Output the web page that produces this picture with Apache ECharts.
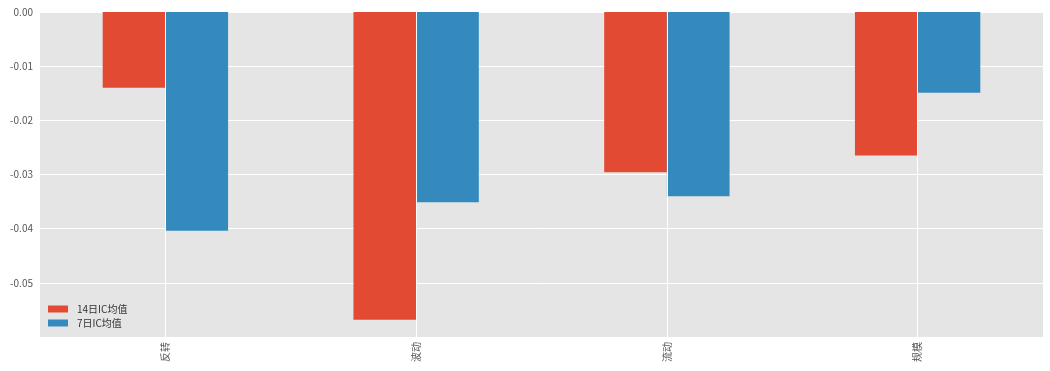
<!DOCTYPE html>
<html><head><meta charset="utf-8">
<script src="https://cdn.jsdelivr.net/npm/echarts@6/dist/echarts.min.js"></script>
<style>html,body{margin:0;padding:0;background:#fff}#c{width:1050px;height:371px}</style>
</head><body><div id="c"></div>
<script>
const categories = ['反转', '波动', '流动', '规模'];
const seriesNames = ['14日IC均值', '7日IC均值'];
const ic14 = [-0.0140, -0.0568, -0.0296, -0.0265];
const ic7 = [-0.0404, -0.0351, -0.0340, -0.0149];
const yTicks = [0, -0.01, -0.02, -0.03, -0.04, -0.05];

const font = '"Noto Sans CJK SC", "DejaVu Sans", sans-serif';
const chart = echarts.init(document.getElementById('c'));
chart.setOption({
  animation: false,
  textStyle: { fontFamily: font },
  grid: { left: 40, right: 7, top: 12, bottom: 34, show: true, backgroundColor: '#e5e5e5', borderWidth: 0 },
  legend: {
    orient: 'vertical', left: 48, top: 304, padding: 0,
    itemWidth: 20, itemHeight: 7, itemGap: 4,
    icon: 'rect',
    data: seriesNames,
    textStyle: { fontSize: 10, color: '#333', lineHeight: 10, fontFamily: font, padding: [0, 0, 0, 4] }
  },
  xAxis: {
    type: 'category', data: categories,
    axisLine: { show: false }, axisTick: { show: false },
    splitLine: { show: false },
    axisLabel: { rotate: 90, fontSize: 10, color: '#555', margin: 5, fontFamily: font }
  },
  yAxis: {
    type: 'value', min: -0.06, max: 0, interval: 0.01,
    axisLine: { show: false }, axisTick: { show: false },
    splitLine: { show: true, lineStyle: { color: '#ffffff', width: 1 } },
    axisLabel: {
      fontSize: 10, color: '#555', margin: 7, fontFamily: font,
      formatter: v => (yTicks.some(t => Math.abs(t - v) < 1e-9) ? v.toFixed(2) : '')
    }
  },
  series: [
    {
      type: 'line', data: [], z: 1, silent: true, symbol: 'none',
      markLine: {
        silent: true, symbol: 'none', label: { show: false },
        lineStyle: { color: '#ffffff', width: 1, type: 'solid' },
        data: categories.map(c => ({ xAxis: c }))
      }
    },
    { name: seriesNames[0], type: 'bar', data: ic14, z: 3, itemStyle: { color: '#e24a33' }, barGap: '0%', barCategoryGap: '50%' },
    { name: seriesNames[1], type: 'bar', data: ic7, z: 3, itemStyle: { color: '#348abd' }, barGap: '0%', barCategoryGap: '50%' }
  ]
});
</script></body></html>
